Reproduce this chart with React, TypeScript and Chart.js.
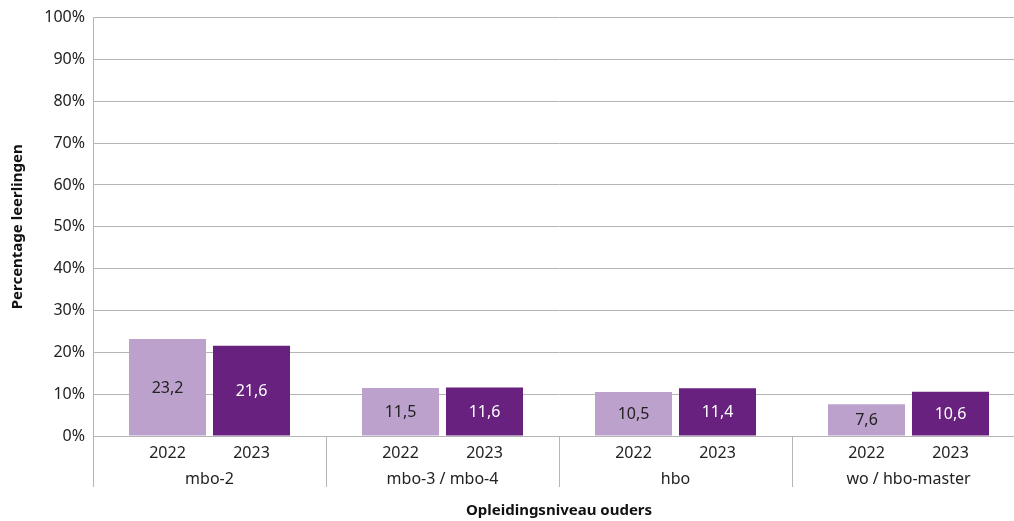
import React, { useEffect, useRef } from "react";
import { Chart, registerables } from "chart.js";

Chart.register(...registerables);

const groups = ["mbo-2", "mbo-3 / mbo-4", "hbo", "wo / hbo-master"];
const years = ["2022", "2023"];
const values2022 = [23.2, 11.5, 10.5, 7.6];
const values2023 = [21.6, 11.6, 11.4, 10.6];
const yTitle = "Percentage leerlingen";
const xTitle = "Opleidingsniveau ouders";

const FONT = "'Noto Sans', sans-serif";
const LIGHT = "#bca1cc";
const DARK = "#68217e";
const GRID = "#b5b5b5";
const TEXT = "#222222";

const fmt = (v: number) => v.toFixed(1).replace(".", ",");

const overlay = {
  id: "overlay",
  afterDraw(chart: any) {
    const ctx = chart.ctx;
    const area = chart.chartArea;
    const xs = chart.scales.x;
    ctx.save();
    // value labels + year labels
    chart.data.datasets.forEach((ds: any, di: number) => {
      const meta = chart.getDatasetMeta(di);
      meta.data.forEach((bar: any, i: number) => {
        const v = ds.data[i];
        ctx.font = `16px ${FONT}`;
        ctx.textAlign = "center";
        ctx.textBaseline = "middle";
        ctx.fillStyle = di === 0 ? TEXT : "#ffffff";
        ctx.fillText(fmt(v), bar.x, (bar.y + bar.base) / 2 + 1);
        ctx.fillStyle = TEXT;
        ctx.fillText(years[di], bar.x, area.bottom + 17);
      });
    });
    // group labels and separators
    const n = groups.length;
    const w = (area.right - area.left) / n;
    ctx.strokeStyle = GRID;
    ctx.lineWidth = 1;
    for (let i = 0; i <= n; i++) {
      const bx = Math.round(xs.getPixelForValue(i) - w / 2) + 0.5;
      ctx.beginPath();
      ctx.moveTo(bx, area.bottom);
      ctx.lineTo(bx, area.bottom + 51);
      ctx.stroke();
    }
    ctx.fillStyle = TEXT;
    ctx.font = `16px ${FONT}`;
    groups.forEach((g, i) => {
      ctx.fillText(g, xs.getPixelForValue(i), area.bottom + 43);
    });
    // titles
    ctx.font = `bold 15px ${FONT}`;
    ctx.fillStyle = "#111111";
    ctx.fillText(xTitle, (area.left + area.right) / 2, area.bottom + 75);
    ctx.translate(18, (area.top + area.bottom) / 2);
    ctx.rotate(-Math.PI / 2);
    ctx.fillText(yTitle, 0, 0);
    ctx.restore();
  },
};

export default function App() {
  const ref = useRef<HTMLCanvasElement | null>(null);
  useEffect(() => {
    if (!ref.current) return;
    const chart = new Chart(ref.current, {
      type: "bar",
      data: {
        labels: groups,
        datasets: [
          { label: years[0], data: values2022, backgroundColor: LIGHT, borderWidth: 0 },
          { label: years[1], data: values2023, backgroundColor: DARK, borderWidth: 0 },
        ],
      },
      options: {
        animation: false,
        responsive: false,
        maintainAspectRatio: false,
        devicePixelRatio: 1,
        categoryPercentage: 0.721,
        barPercentage: 0.917,
        layout: { padding: { top: 15, bottom: 85, left: 0, right: 0 } },
        plugins: { legend: { display: false }, tooltip: { enabled: false } },
        scales: {
          x: { display: false },
          y: {
            min: 0,
            max: 100,
            afterFit: (s: any) => {
              s.width = 93;
            },
            ticks: {
              stepSize: 10,
              padding: 8,
              color: TEXT,
              font: { family: FONT, size: 16 },
              callback: (v: any) => v + "%",
            },
            grid: { color: GRID, lineWidth: 1, drawTicks: false },
            border: { color: GRID, width: 1 },
          },
        },
      },
      plugins: [overlay],
    });
    return () => chart.destroy();
  }, []);
  return (
    <div style={{ position: "fixed", left: 0, top: 0, width: 1014, height: 521, overflow: "hidden", background: "#fff" }}>
      <canvas ref={ref} width={1025} height={521} style={{ display: "block", width: 1025, height: 521 }} />
    </div>
  );
}
